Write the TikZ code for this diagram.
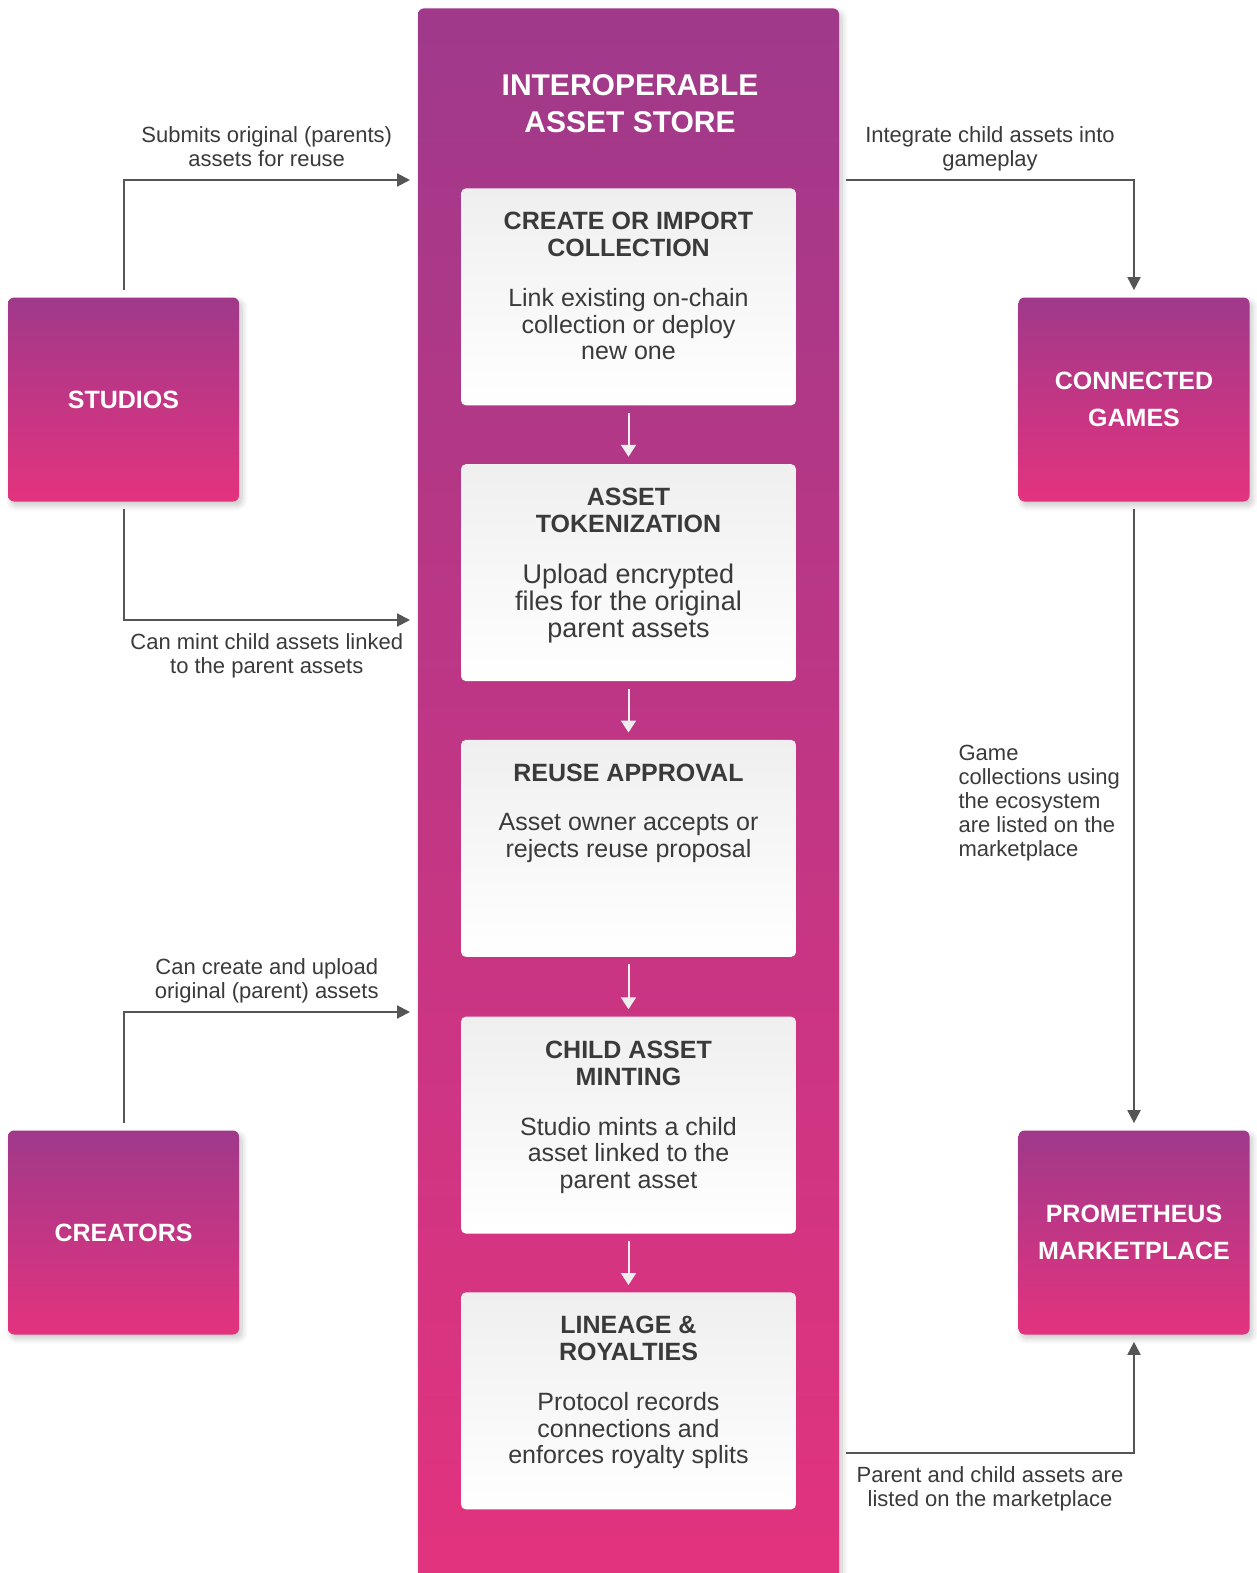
\documentclass[tikz,border=0pt]{standalone}
\usepackage{fontspec}
\setmainfont{Liberation Sans}
\usepackage{tikz}
\usetikzlibrary{positioning,arrows.meta,shadows.blur}

\definecolor{storetop}{RGB}{160,57,138}
\definecolor{storebottom}{RGB}{227,51,126}
\definecolor{cardtop}{RGB}{239,239,239}
\definecolor{inkgray}{RGB}{58,58,58}
\definecolor{linkgray}{RGB}{85,85,85}
\definecolor{stepwhite}{RGB}{238,238,238}

\tikzset{every picture/.style={line width=0.75pt}}
\tikzset{
  purplebox/.style={rectangle, rounded corners=6pt, top color=storetop, bottom color=storebottom,
    text=white, font=\fontsize{25}{37}\selectfont\bfseries, align=center, inner sep=0pt,
    blur shadow={shadow xshift=3pt, shadow yshift=-4pt, shadow blur radius=6pt, shadow blur steps=10, shadow opacity=22}},
  sidebox/.style={purplebox, minimum width=231pt, minimum height=204pt},
  card/.style={rectangle, rounded corners=5pt, top color=cardtop, bottom color=white,
    minimum width=335pt, minimum height=217pt, inner sep=0pt},
  cardhead/.style={font=\fontsize{25}{27}\selectfont\bfseries, text=inkgray, align=center, inner sep=0pt},
  cardbody/.style={font=\fontsize{25}{26.5}\selectfont, text=inkgray, align=center, inner sep=0pt},
  linklabel/.style={font=\fontsize{22}{24}\selectfont, text=inkgray, align=center, inner sep=0pt},
  link/.style={draw=linkgray, line width=2pt, -{Triangle[length=13pt,width=13pt]}},
  steparrow/.style={draw=stepwhite, line width=2pt, -{Triangle[length=12pt,width=15pt]}},
}

\begin{document}
\begin{tikzpicture}[x=1pt,y=-1pt]
\useasboundingbox (0,0) rectangle (1257,1573);

% Store column
\node[purplebox, minimum width=421pt, minimum height=1585pt, anchor=north] (store) at (628.5,8) {};
% Text Node
\node[font=\fontsize{30}{37}\selectfont\bfseries, text=white, align=center, inner sep=0pt, anchor=north] (storetitle) at (630,74) {INTEROPERABLE\\ASSET STORE};

% Cards
\node[card, anchor=north] (create) at (628.5,188) {};
\node[card, below=58pt of create] (tokenize) {};
\node[card, below=58pt of tokenize] (approval) {};
\node[card, below=59pt of approval] (minting) {};
\node[card, below=58pt of minting] (lineage) {};

% Text Node
\node[cardhead, below=24pt of create.north] (createhead) {CREATE OR IMPORT\\COLLECTION};
\node[cardbody, below=31pt of createhead] (createbody) {Link existing on-chain\\collection or deploy\\new one};
% Text Node
\node[cardhead, below=24pt of tokenize.north] (tokenizehead) {ASSET\\TOKENIZATION};
\node[cardbody, font=\fontsize{27}{27}\selectfont, below=30pt of tokenizehead] (tokenizebody) {Upload encrypted\\files for the original\\parent assets};
% Text Node
\node[cardhead, below=24pt of approval.north] (approvalhead) {REUSE APPROVAL};
\node[cardbody, below=31pt of approvalhead] (approvalbody) {Asset owner accepts or\\rejects reuse proposal};
% Text Node
\node[cardhead, below=24pt of minting.north] (mintinghead) {CHILD ASSET\\MINTING};
\node[cardbody, below=31pt of mintinghead] (mintingbody) {Studio mints a child\\asset linked to the\\parent asset};
% Text Node
\node[cardhead, below=24pt of lineage.north] (lineagehead) {LINEAGE \&\\ROYALTIES};
\node[cardbody, below=31pt of lineagehead] (lineagebody) {Protocol records\\connections and\\enforces royalty splits};

%Straight Lines
\draw[steparrow] ([yshift=-7pt]create.south) -- ([yshift=7pt]tokenize.north);
\draw[steparrow] ([yshift=-7pt]tokenize.south) -- ([yshift=7pt]approval.north);
\draw[steparrow] ([yshift=-7pt]approval.south) -- ([yshift=7pt]minting.north);
\draw[steparrow] ([yshift=-7pt]minting.south) -- ([yshift=7pt]lineage.north);

% Side boxes
\node[sidebox] (studios) at (123.5,399.5) {STUDIOS};
\node[sidebox] (creators) at (123.5,1232.5) {CREATORS};
\node[sidebox] (games) at (1134,399.5) {CONNECTED\\GAMES};
\node[sidebox] (market) at (1134,1232.5) {PROMETHEUS\\MARKETPLACE};

% Connector ends at the store column
\coordinate (submitin) at (410,180);
\coordinate (mintin) at (410,620);
\coordinate (createin) at (410,1012);
\coordinate (gameout) at (846,180);
\coordinate (marketout) at (846,1453);

%Straight Lines
\draw[link] ([yshift=7pt]studios.north) |- (submitin)
  node[linklabel, pos=0.75, above=12.5pt] {Submits original (parents)\\assets for reuse};
\draw[link] ([yshift=-7pt]studios.south) |- (mintin)
  node[linklabel, pos=0.75, below=12.5pt] {Can mint child assets linked\\to the parent assets};
\draw[link] ([yshift=7pt]creators.north) |- (createin)
  node[linklabel, pos=0.75, above=8pt] {Can create and upload\\original (parent) assets};
\draw[link] (gameout) -| ([yshift=7pt]games.north)
  node[linklabel, pos=0.25, above=8pt] {Integrate child assets into\\gameplay};
\draw[link] ([yshift=-7pt]games.south) -- ([yshift=7pt]market.north)
  node[linklabel, align=left, pos=0.5, anchor=east, xshift=-13pt, yshift=13pt] {Game\\collections using\\the ecosystem\\are listed on the\\marketplace};
\draw[link] (marketout) -| ([yshift=-7pt]market.south)
  node[linklabel, pos=0.25, below=12.5pt] {Parent and child assets are\\listed on the marketplace};

\end{tikzpicture}
\end{document}
